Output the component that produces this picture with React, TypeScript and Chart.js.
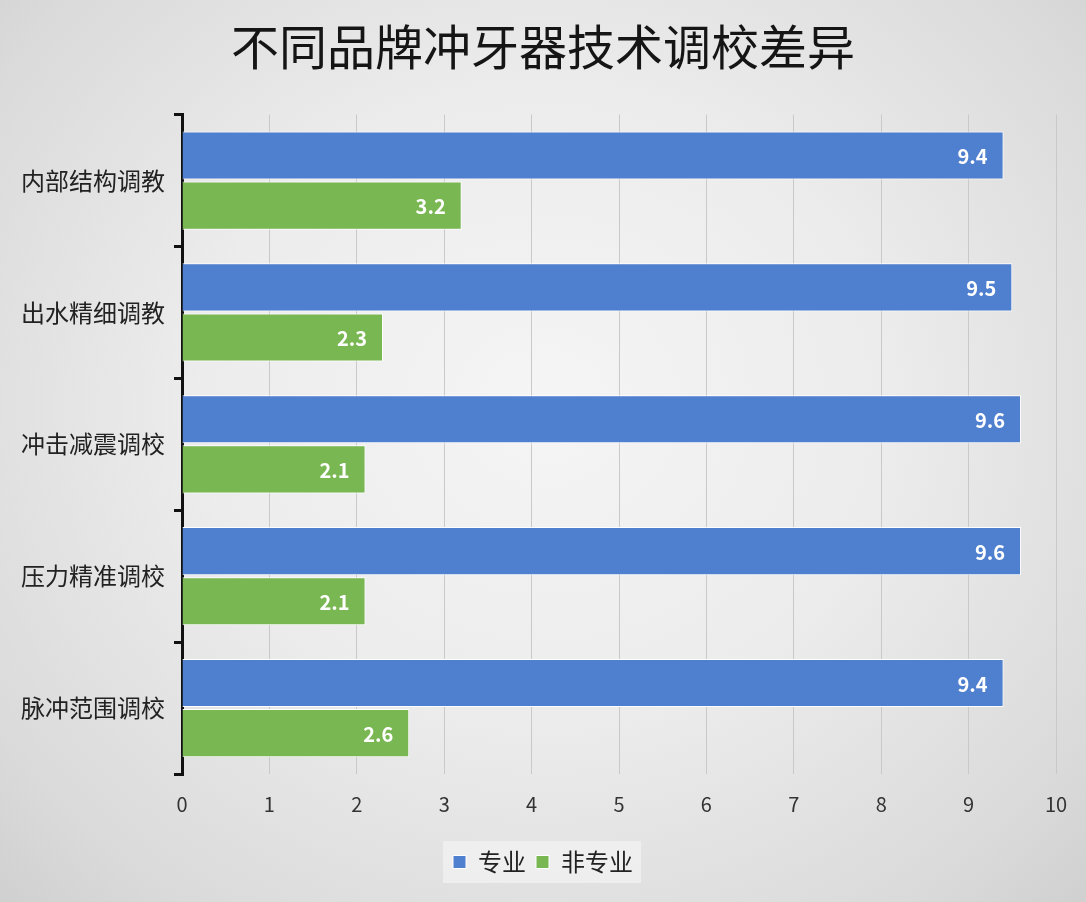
import { useEffect, useRef } from 'react';
import { Chart, registerables } from 'chart.js';

Chart.register(...registerables);

// Chart data
const categories = ['内部结构调教', '出水精细调教', '冲击减震调校', '压力精准调校', '脉冲范围调校'];
const proValues = [9.4, 9.5, 9.6, 9.6, 9.4];
const nonProValues = [3.2, 2.3, 2.1, 2.1, 2.6];
const seriesNames = ['专业', '非专业'];
const titleText = '不同品牌冲牙器技术调校差异';

const colors = {
  blue: '#4f7fcf',
  green: '#79b752',
  grid: '#c9c9c9',
  text: '#222222'
};

const FONT = '"Noto Sans CJK SC", "Noto Sans", sans-serif';

// white value labels drawn inside the end of every bar
const barLabels = {
  id: 'barLabels',
  afterDatasetsDraw(chart: any) {
    const ctx = chart.ctx;
    ctx.save();
    ctx.font = `bold 20px ${FONT}`;
    ctx.fillStyle = '#ffffff';
    ctx.textAlign = 'right';
    ctx.textBaseline = 'middle';
    chart.data.datasets.forEach((ds: any, i: number) => {
      const meta = chart.getDatasetMeta(i);
      meta.data.forEach((bar: any, j: number) => {
        ctx.fillText(ds.data[j].toFixed(1), bar.x - 16, bar.y + 1);
      });
    });
    ctx.restore();
  }
};

// light box behind the legend items
const legendBox = {
  id: 'legendBox',
  beforeDraw(chart: any) {
    const lg = chart.legend;
    if (!lg || !lg.legendHitBoxes || !lg.legendHitBoxes.length) return;
    const boxes = lg.legendHitBoxes;
    const left = Math.min(...boxes.map((b: any) => b.left));
    const right = Math.max(...boxes.map((b: any) => b.left + b.width));
    const top = Math.min(...boxes.map((b: any) => b.top));
    const bottom = Math.max(...boxes.map((b: any) => b.top + b.height));
    const ctx = chart.ctx;
    ctx.save();
    ctx.fillStyle = 'rgba(240, 240, 240, 0.9)';
    ctx.fillRect(left - 10, top - 9, right - left + 18, bottom - top + 18);
    ctx.restore();
  }
};

const App = () => {
  const chartRef = useRef<HTMLCanvasElement | null>(null);
  const chartInstance = useRef<Chart | null>(null);

  useEffect(() => {
    if (!chartRef.current) return;
    if (chartInstance.current) chartInstance.current.destroy();
    const ctx = chartRef.current.getContext('2d');
    if (!ctx) return;

    chartInstance.current = new Chart(ctx, {
      type: 'bar',
      data: {
        labels: categories,
        datasets: [
          {
            label: seriesNames[0],
            data: proValues,
            backgroundColor: colors.blue,
            borderColor: '#ffffff',
            borderWidth: 1,
            categoryPercentage: 0.76,
            barPercentage: 0.96
          },
          {
            label: seriesNames[1],
            data: nonProValues,
            backgroundColor: colors.green,
            borderColor: '#ffffff',
            borderWidth: 1,
            categoryPercentage: 0.76,
            barPercentage: 0.96
          }
        ]
      },
      options: {
        indexAxis: 'y',
        animation: false,
        responsive: true,
        maintainAspectRatio: false,
        layout: {
          padding: { left: 0, right: 0, top: 0, bottom: 18 }
        },
        scales: {
          x: {
            min: 0,
            max: 10,
            ticks: {
              stepSize: 1,
              padding: 18,
              color: '#333333',
              font: { family: FONT, size: 20 }
            },
            grid: { color: colors.grid, lineWidth: 1, drawTicks: false },
            border: { display: false },
            afterFit: (scale: any) => {
              scale.height = 66;
              // keep 30px free right of the plot, title and legend stay centred on the page
              scale.paddingRight = 30;
            }
          },
          y: {
            ticks: {
              padding: 9,
              color: colors.text,
              font: { family: FONT, size: 24 }
            },
            grid: {
              drawOnChartArea: false,
              drawTicks: true,
              tickLength: 8,
              color: '#111111',
              lineWidth: 3
            },
            border: { display: true, color: '#111111', width: 3 },
            afterFit: (scale: any) => {
              scale.width = 182;
            }
          }
        },
        plugins: {
          title: {
            display: true,
            text: titleText,
            color: '#151515',
            font: { family: FONT, size: 48, weight: 'normal' },
            padding: { top: 18, bottom: 39 }
          },
          legend: {
            display: true,
            position: 'bottom',
            labels: {
              boxWidth: 13,
              boxHeight: 13,
              padding: 10,
              color: '#222222',
              font: { family: FONT, size: 24 }
            }
          },
          tooltip: { enabled: false }
        }
      },
      plugins: [legendBox, barLabels]
    });

    return () => {
      if (chartInstance.current) {
        chartInstance.current.destroy();
        chartInstance.current = null;
      }
    };
  }, []);

  return (
    <div
      style={{
        position: 'absolute',
        left: 0,
        top: 0,
        width: 1086,
        height: 902,
        background:
          'radial-gradient(ellipse at 50% 45%, #f5f5f5 0%, #ececec 45%, #dadada 85%, #d0d0d0 100%)'
      }}
    >
      <canvas ref={chartRef}></canvas>
    </div>
  );
};

export default App;
